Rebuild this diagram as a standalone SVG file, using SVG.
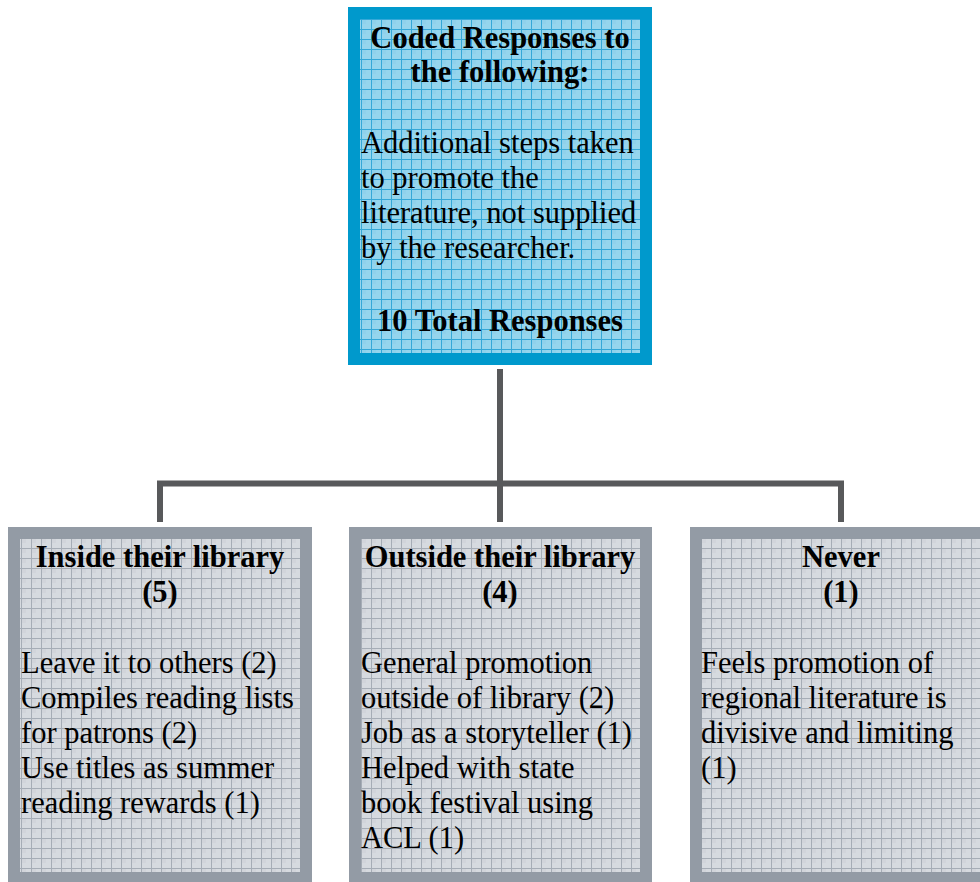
<svg xmlns="http://www.w3.org/2000/svg" width="980" height="882" viewBox="0 0 980 882">
<defs>
<pattern id="gridBlue" x="361" y="19" width="10" height="10" patternUnits="userSpaceOnUse">
<rect width="10" height="10" fill="#95d5ed"/>
<rect x="0" y="0" width="5" height="5" fill="#8acfe9" opacity="0.6"/>
<path d="M0 0.5H10M0.5 0V10" stroke="#35a8d8" stroke-width="1"/>
</pattern>
<pattern id="gridGray" x="1" y="8" width="10" height="10" patternUnits="userSpaceOnUse">
<rect width="10" height="10" fill="#d6dadf"/>
<rect x="0" y="0" width="5" height="5" fill="#cdd1d7" opacity="0.6"/>
<path d="M0 0.5H10M0.5 0V10" stroke="#a6adb6" stroke-width="1"/>
</pattern>
</defs>
<style>
.t{font-family:"Liberation Serif","Times New Roman",serif;font-size:30.5px;fill:#000}
.b{font-weight:bold;text-anchor:middle}
.blueBox{fill:url(#gridBlue);stroke:#0099cc;stroke-width:12}
.grayBox{fill:url(#gridGray);stroke:#939ba5;stroke-width:12}
.conn{fill:none;stroke:#58595b;stroke-width:6}
</style>
<rect width="980" height="882" fill="#ffffff"/>
<g id="connectors">
<path class="conn" d="M500 369V522"/>
<path class="conn" d="M160 522V483.5H841V522"/>
</g>
<g id="root">
<rect class="blueBox" x="354" y="13" width="292" height="346"/>
<text class="t b" x="500" y="48">Coded Responses to</text>
<text class="t b" x="500" y="82">the following:</text>
<text class="t" x="361" y="153">Additional steps taken</text>
<text class="t" x="361" y="188">to promote the</text>
<text class="t" x="361" y="223">literature, not supplied</text>
<text class="t" x="361" y="258">by the researcher.</text>
<text class="t b" x="500" y="331">10 Total Responses</text>
</g>
<g id="inside">
<rect class="grayBox" x="14" y="533" width="292" height="345"/>
<text class="t b" x="160" y="567">Inside their library</text>
<text class="t b" x="160" y="602">(5)</text>
<text class="t" x="21" y="673">Leave it to others (2)</text>
<text class="t" x="21" y="708">Compiles reading lists</text>
<text class="t" x="21" y="743">for patrons (2)</text>
<text class="t" x="21" y="778">Use titles as summer</text>
<text class="t" x="21" y="813">reading rewards (1)</text>
</g>
<g id="outside">
<rect class="grayBox" x="355" y="533" width="291" height="345"/>
<text class="t b" x="500" y="567">Outside their library</text>
<text class="t b" x="500" y="602">(4)</text>
<text class="t" x="361" y="673">General promotion</text>
<text class="t" x="361" y="708">outside of library (2)</text>
<text class="t" x="361" y="743">Job as a storyteller (1)</text>
<text class="t" x="361" y="778">Helped with state</text>
<text class="t" x="361" y="813">book festival using</text>
<text class="t" x="361" y="848">ACL (1)</text>
</g>
<g id="never">
<rect class="grayBox" x="696" y="533" width="300" height="345"/>
<text class="t b" x="841" y="567">Never</text>
<text class="t b" x="841" y="602">(1)</text>
<text class="t" x="701" y="673">Feels promotion of</text>
<text class="t" x="701" y="708">regional literature is</text>
<text class="t" x="701" y="743">divisive and limiting</text>
<text class="t" x="701" y="778">(1)</text>
</g>
</svg>
